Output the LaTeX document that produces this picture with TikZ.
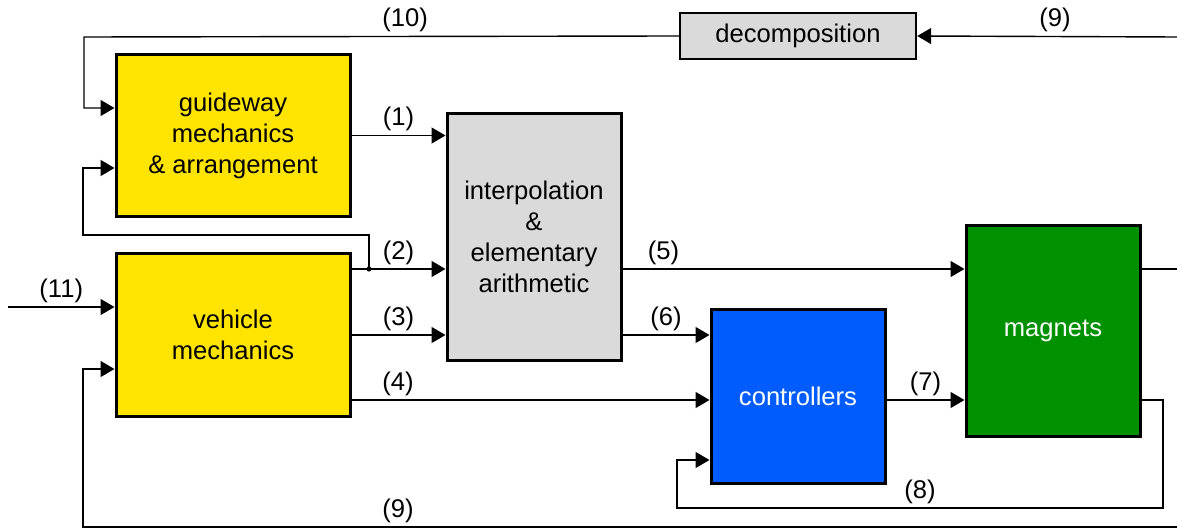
\documentclass[tikz,border=0pt]{standalone}
\usepackage{fontspec}
\setmainfont{Liberation Sans}
\usepackage{xcolor}
\usepackage{tikz}
\usetikzlibrary{arrows.meta}
\definecolor{gelb}{RGB}{255,228,0}
\definecolor{grau}{RGB}{218,218,218}
\definecolor{blau}{RGB}{0,92,255}
\definecolor{gruen}{RGB}{0,145,0}
\tikzstyle{block} =	[draw, rectangle,
	line width=1.5pt,
	align=center,
	inner sep = 1ex
	]
\tikzstyle{pfeil} = [draw,
	-{Triangle[length=7pt,width=8pt]}, line width=0.7pt
	]
\tikzstyle{linie} = [draw, line width=0.7pt]
\tikzstyle{nummer} = [above=1pt, inner sep=1pt]

\begin{document}
\begin{tikzpicture}[x=0.5pt, y=-0.5pt, font=\fontsize{12.8}{15.5}\selectfont]
    \useasboundingbox (0,0) rectangle (1177,529);

    \node [block, fill=gelb, minimum width=117pt, minimum height=81pt] (guideway) at (233,135.5)
    	{guideway\\mechanics\\\& arrangement};
    \node [block, fill=gelb, minimum width=117pt, minimum height=81pt] (vehicle) at (233,335)
    	{vehicle\\mechanics};
    \node [block, fill=grau, minimum width=87pt, minimum height=123pt] (interp) at (534,237)
    	{interpolation\\\&\\elementary\\arithmetic};
    \node [block, fill=blau, text=white, minimum width=87pt, minimum height=87pt] (controllers) at (798,396)
    	{controllers};
    \node [block, fill=gruen, text=white, minimum width=87pt, minimum height=105pt] (magnets) at (1053,331)
    	{magnets};
    \node [block, fill=grau, line width=1.2pt, minimum width=118pt, minimum height=23pt, inner sep=0pt] (decomp) at (798,36)
    	{decomposition};

    \coordinate (split) at (369,269);
    \coordinate (rechtsoben) at (1177,37);
    \coordinate (rechtsmitte) at (1177,269);
    \coordinate (rechtsunten) at (1177,527);
    \coordinate (eingang) at (8,307);

    % signals between the blocks
    \draw [pfeil] (guideway.east) -- node[nummer] {(1)} (guideway.east -| interp.west);
    \draw [pfeil] (vehicle.east |- split) -- node[nummer] {(2)} (interp.west |- split);
    \draw [pfeil] (vehicle.east) -- node[nummer] {(3)} (vehicle.east -| interp.west);
    \draw [pfeil] (vehicle.east |- 0,400) -- node[nummer, pos=0.13] {(4)} (controllers.west |- 0,400);
    \draw [pfeil] (interp.east |- split) -- node[nummer, pos=0.12] {(5)} (magnets.west |- split);
    \draw [pfeil] (interp.east |- 0,335) -- node[nummer] {(6)} (controllers.west |- 0,335);
    \draw [pfeil] (controllers.east |- 0,400) -- node[nummer] {(7)} (magnets.west |- 0,400);
    \draw [linie] (magnets.east |- split) -- (rechtsmitte);

    % feedback loops
    \draw [pfeil] (magnets.east |- 0,400) -- (1163,400) -- (1163,508)
    	-- node[nummer, pos=0.5] {(8)} (677,508) -- (677,460) -- (controllers.west |- 0,460);
    \draw [pfeil] (rechtsunten) -- node[nummer, pos=0.712] {(9)} (83,527) -- (83,369) -- (vehicle.west |- 0,369);
    \draw [pfeil] (rechtsoben) -- node[nummer, pos=0.47] {(9)} (decomp.east);
    \draw [pfeil] (decomp.west) -- node[nummer, pos=0.46] {(10)} (84,37) -- (84,108) -- (guideway.west |- 0,108);
    \draw [pfeil] (split) -- (369,235) -- (83,235) -- (83,168) -- (guideway.west |- 0,168);
    \fill (split) circle (1.3pt);
    \draw [pfeil] (eingang) -- node[nummer] {(11)} (vehicle.west |- eingang);
\end{tikzpicture}
\end{document}
